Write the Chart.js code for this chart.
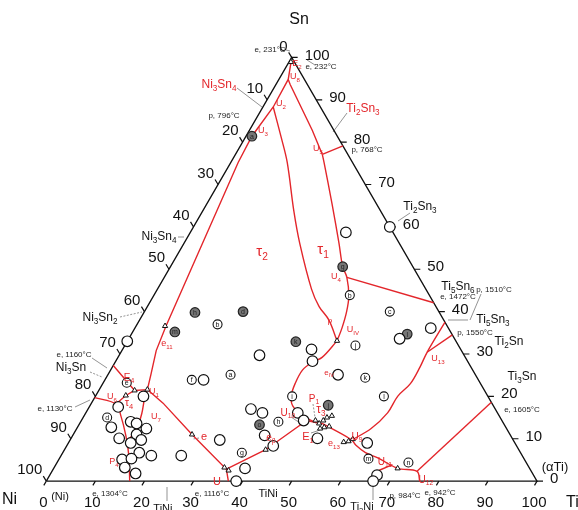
<!DOCTYPE html>
<html>
<head>
<meta charset="utf-8">
<script src="https://cdn.jsdelivr.net/npm/chart.js@4.4.1/dist/chart.umd.min.js"></script>
<style>
  html, body { margin: 0; padding: 0; background: #fff; }
  canvas { display: block; }
</style>
</head>
<body>
<canvas id="chart" width="578" height="510"></canvas>
<script>
// all compositions in at.% as [Ti, Sn]; Ni = 100 - Ti - Sn
const outline = [[0, 0], [100, 0], [0, 100], [0, 0]];
const axisTicks = [0, 10, 20, 30, 40, 50, 60, 70, 80, 90, 100];

const openSamples = [[40, 60], [31.7, 58.7], [60.3, 36.1], [55.2, 33.6], [0, 33], [28.6, 29.7], [20.1, 23.9],
  [9.8, 20], [5.9, 17.5], [6.9, 12.7], [10.2, 14], [11.6, 13.6], [14.2, 12.4], [12.9, 11], [9.8, 10.1],
  [12.7, 9], [14.5, 9.7], [15.6, 6.7], [18.4, 6], [12.9, 5.1], [14.7, 5.3], [14.4, 3.2], [17.3, 1.8],
  [24.5, 6], [30.5, 9.7], [39, 3], [38.7, 0], [33.2, 17], [36, 16.1], [39.1, 10.8], [42.1, 8.3],
  [43.2, 16.1], [45.3, 14.3], [38.5, 31.1], [40.1, 28.3], [46.9, 25.1], [50.2, 10.1], [60.9, 9],
  [66.7, 1.4], [66.6, 0]];

const graySamples = [[1.2, 81.4], [10.4, 39.8], [20.1, 40], [8.6, 35.2], [35.1, 50.6], [34.4, 32.9],
  [56.2, 34.7], [36.8, 13.3], [48.5, 17.9]];
const grayLetters = ['a', 'h', 'd', 'm', 'g', 'k', 'l', 'o', 'j'];

const letterSamples = [[39.9, 43.9], [50, 40], [16.4, 37], [25, 25.1], [17.7, 23.9], [4.8, 23.2], [4.9, 15],
  [36.5, 6.7], [40.3, 14], [40.1, 20], [47, 32], [52.8, 24.4], [58.8, 20], [63, 5.3], [71.6, 4.4]];
const sampleLetters = ['b', 'c', 'b', 'a', 'f', 'e', 'd', 'g', 'h', 'i', 'j', 'k', 'l', 'm', 'n'];

const invariantPoints = [[0.4, 98.9], [5.9, 36.6], [7.3, 21.4], [6.1, 20.2], [9.8, 21.6], [24.2, 11],
  [34.7, 3.2], [35.9, 2.5], [41, 7.4], [42.7, 33.1], [48.8, 13.6], [49.3, 14.3], [49.7, 15], [50.5, 15.4],
  [50.3, 12.7], [49.6, 12.4], [51.2, 12.9], [47.7, 14.3], [56, 9.2], [56.9, 9.4], [57.5, 9.9], [70.1, 3]];

// liquidus valleys
const valleySnCorner = [[0.5, 98.7], [1.9, 94.8], [2.1, 88.3], [1.2, 81.4], [1.5, 75.2], [6.1, 36.6], [7, 30.8], [8.7, 25.3], [9.8, 21.6]];
const valleyU2 = [[2.1, 88.3], [7.4, 81], [11.5, 75.2], [18.6, 63.7], [23.6, 56.1], [31.4, 45.3], [35, 41.2], [38.6, 38], [42.7, 33.1]];
const valleyU5top = [[1.9, 94.8], [2.9, 93.6], [12.8, 82.8], [17.7, 77.1]];
const valleyP768 = [[17.7, 77.1], [20.9, 79.1]];
const valleyU5down = [[17.7, 77.1], [19, 75.2], [25.6, 65.3], [31.6, 56.1], [35.1, 50.6], [37.2, 48.1], [39.8, 43.7], [41.2, 40], [42.2, 36.1], [42.7, 33.1]];
const valleyTi5Sn6 = [[37.2, 48.1], [57.9, 42.1]];
const valleyTau1 = [[42.7, 33.1], [41.6, 29.2], [40.2, 28.1], [39.1, 26.2], [39.2, 23], [39.9, 20], [41.4, 17.7], [44.6, 15.4], [48.1, 13.8], [49.4, 13.6]];
const valleyTi2Ni = [[49.4, 13.6], [52, 12.4], [57.4, 9.7], [58.8, 8.5], [61.7, 6.7], [64.8, 5.5], [70.1, 3], [74.4, 2.3], [76.1, 0]];
const valleyTi3Sn = [[74.4, 2.3], [81.4, 18.6]];
const valleyUi = [[57.4, 9.7], [60, 12.4], [61.5, 16.1], [61.6, 20], [62.7, 23], [62.7, 26.9], [62.4, 30.4], [62.5, 37.5]];
const valleyP1550 = [[62.4, 30.4], [65.5, 34.5]];
const valleyNiA = [[9.8, 21.6], [14.6, 18.4], [24.2, 11], [35.3, 2.8], [37.1, 0]];
const valleyNiB = [[35.3, 2.8], [41, 7.4], [45.9, 14.3], [48.1, 13.8]];
const valleyE1160 = [[0, 27.3], [7.3, 21.4], [9.8, 21.6]];
const valleyUc = [[7.3, 21.4], [6.1, 20.2], [5.1, 18.2]];
const valleyE1130 = [[0, 19.7], [5.1, 18.2], [7.5, 15.4], [10.8, 10.8], [13.7, 6.2], [17, 0]];
const valleyP4 = [[9.8, 21.6], [10.1, 20], [11.5, 15.9], [12.3, 12], [11.8, 9.5]];
const valley984 = [[68.6, 3.9], [66.5, 2.5]];

const H = Math.sqrt(3) / 2;
const tern = ([ti, sn]) => ({ x: ti + sn / 2, y: sn * H });

const RED = '#e3262b';
const FONT = '"Liberation Sans", Arial, sans-serif';

function richText(ctx, str, x, y, size, color, align) {
  const parts = [];
  let i = 0;
  while (i < str.length) {
    if (str[i] === '_') {
      let s;
      if (str[i + 1] === '{') {
        const k = str.indexOf('}', i);
        s = str.slice(i + 2, k);
        i = k + 1;
      } else {
        s = str[i + 1];
        i += 2;
      }
      parts.push({ s, sub: true });
    } else {
      let j = i;
      while (j < str.length && str[j] !== '_') j++;
      parts.push({ s: str.slice(i, j), sub: false });
      i = j;
    }
  }
  let w = 0;
  parts.forEach(p => {
    ctx.font = `${p.sub ? size * 0.68 : size}px ${FONT}`;
    p.w = ctx.measureText(p.s).width;
    w += p.w;
  });
  let cx = align === 'center' ? x - w / 2 : align === 'right' ? x - w : x;
  ctx.fillStyle = color;
  ctx.textBaseline = 'middle';
  ctx.textAlign = 'left';
  parts.forEach(p => {
    ctx.font = `${p.sub ? size * 0.68 : size}px ${FONT}`;
    ctx.fillText(p.s, cx, p.sub ? y + size * 0.32 : y);
    cx += p.w;
  });
}

// annotation text: [text, x, y, size, color, align]
const notes = [
  ['Sn', 299, 20, 16, '#111', 'center'],
  ['Ni', 2, 500, 16, '#111', 'left'],
  ['Ti', 566, 503, 16, '#111', 'left'],
  ['(Ni)', 60, 497, 11, '#111', 'center'],
  ['(\u03b1Ti)', 555, 467, 13, '#111', 'center'],
  ['TiNi', 268, 494, 11, '#111', 'center'],
  ['TiNi_3', 165, 509, 11, '#111', 'center'],
  ['Ti_2Ni', 362, 507, 11, '#111', 'center'],
  ['Ni_3Sn_4', 159, 237, 12, '#111', 'center'],
  ['Ni_3Sn_2', 100, 318, 12, '#111', 'center'],
  ['Ni_3Sn', 71, 368, 12, '#111', 'center'],
  ['Ti_2Sn_3', 420, 207, 12, '#111', 'center'],
  ['Ti_5Sn_6', 458, 287, 12, '#111', 'center'],
  ['Ti_5Sn_3', 493, 320, 12, '#111', 'center'],
  ['Ti_2Sn', 509, 342, 12, '#111', 'center'],
  ['Ti_3Sn', 522, 377, 12, '#111', 'center'],
  ['e, 231\u00b0C', 270, 50, 8, '#222', 'center'],
  ['e, 232\u00b0C', 321, 67, 8, '#222', 'center'],
  ['p, 796\u00b0C', 224, 116, 8, '#222', 'center'],
  ['p, 768\u00b0C', 367, 150, 8, '#222', 'center'],
  ['e, 1472\u00b0C', 458, 297, 8, '#222', 'center'],
  ['p, 1510\u00b0C', 494, 290, 8, '#222', 'center'],
  ['p, 1550\u00b0C', 475, 333, 8, '#222', 'center'],
  ['e, 1605\u00b0C', 522, 410, 8, '#222', 'center'],
  ['e, 1160\u00b0C', 74, 355, 8, '#222', 'center'],
  ['e, 1130\u00b0C', 55, 409, 8, '#222', 'center'],
  ['e, 1304\u00b0C', 110, 494, 8, '#222', 'center'],
  ['e, 1116\u00b0C', 212, 494, 8, '#222', 'center'],
  ['p, 984\u00b0C', 405, 496, 8, '#222', 'center'],
  ['e, 942\u00b0C', 440, 493, 8, '#222', 'center'],
  ['Ni_3Sn_4', 219, 85, 12, RED, 'center'],
  ['Ti_2Sn_3', 363, 109, 12, RED, 'center'],
  ['\u03c4_2', 262, 252, 15, RED, 'center'],
  ['\u03c4_1', 323, 250, 15, RED, 'center'],
  ['\u03c4_4', 129, 403, 11, RED, 'center'],
  ['\u03c4_3', 321, 410, 12, RED, 'center'],
  ['E_2', 297, 64, 9, RED, 'center'],
  ['U_8', 295, 77, 9, RED, 'center'],
  ['U_2', 281, 104, 9, RED, 'center'],
  ['U_3', 263, 131, 9, RED, 'center'],
  ['U_5', 318, 149, 9, RED, 'center'],
  ['U_4', 336, 277, 9, RED, 'center'],
  ['e_{11}', 167, 344, 9, RED, 'center'],
  ['E_4', 129, 378, 10, RED, 'center'],
  ['U_1', 154, 392, 9, RED, 'center'],
  ['U_6', 112, 397, 9, RED, 'center'],
  ['U_7', 156, 417, 9, RED, 'center'],
  ['P_4', 114, 462, 9, RED, 'center'],
  ['e', 204, 437, 11, RED, 'center'],
  ['U', 217, 482, 11, RED, 'center'],
  ['e_\u03b2', 271, 438, 10, RED, 'center'],
  ['p', 330, 321, 8, RED, 'center'],
  ['U_{IV}', 353, 330, 9, RED, 'center'],
  ['e_{IV}', 329, 373, 8, RED, 'center'],
  ['P_1', 314, 399, 10, RED, 'center'],
  ['U_{10}', 288, 413, 10, RED, 'center'],
  ['E_1', 308, 437, 11, RED, 'center'],
  ['e_{13}', 334, 444, 9, RED, 'center'],
  ['U_9', 357, 437, 10, RED, 'center'],
  ['U_{11}', 385, 462, 10, RED, 'center'],
  ['U_{12}', 426, 480, 10, RED, 'center'],
  ['U_{13}', 438, 359, 9, RED, 'center']
];

// leader lines [x1, y1, x2, y2, dashed]
const leaders = [
  [237, 88, 262, 107, false], [347, 113, 333, 132, false], [307, 60, 315, 65, false],
  [286, 50, 290, 51, false], [410, 213, 398, 221, false], [178, 237, 184, 237, false],
  [120, 317, 142, 312, true], [90, 372, 102, 377, true], [92, 358, 107, 368, false],
  [75, 407, 90, 400, false], [448, 320, 468, 320, false], [470, 320, 481, 294, false],
  [167, 487, 167, 501, false], [373, 487, 373, 500, false], [313, 404, 316, 424, true],
  [291, 417, 303, 425, false], [311, 433, 320, 430, false], [199, 438, 193, 439, true]
];

const pixelOf = (scales, ti, sn) => {
  const p = tern([ti, sn]);
  return { x: scales.x.getPixelForValue(p.x), y: scales.y.getPixelForValue(p.y) };
};

const decor = {
  id: 'decor',
  beforeDatasetsDraw(chart) {
    const { ctx, scales } = chart;
    ctx.save();
    ctx.strokeStyle = '#111';
    ctx.lineWidth = 1.2;
    axisTicks.forEach(v => {
      const l = pixelOf(scales, 0, 100 - v);
      const r = pixelOf(scales, 100 - v, v);
      const b = pixelOf(scales, v, 0);
      ctx.beginPath();
      ctx.moveTo(l.x, l.y); ctx.lineTo(l.x - 3, l.y - 5);
      ctx.moveTo(r.x, r.y); ctx.lineTo(r.x + 6, r.y);
      ctx.moveTo(b.x, b.y); ctx.lineTo(b.x - 2.5, b.y + 4.3);
      ctx.stroke();
    });
    ctx.strokeStyle = '#666';
    ctx.lineWidth = 0.7;
    leaders.forEach(([x1, y1, x2, y2, dashed]) => {
      ctx.setLineDash(dashed ? [2, 1.5] : []);
      ctx.beginPath();
      ctx.moveTo(x1, y1); ctx.lineTo(x2, y2);
      ctx.stroke();
    });
    ctx.restore();
  },
  afterDraw(chart) {
    const { ctx, scales } = chart;
    ctx.save();
    axisTicks.forEach(v => {
      const l = pixelOf(scales, 0, 100 - v);
      const r = pixelOf(scales, 100 - v, v);
      const b = pixelOf(scales, v, 0);
      richText(ctx, String(v), l.x - 4, l.y - 11, 15, '#111', 'right');
      richText(ctx, String(v), r.x + 13, r.y - 2, 15, '#111', 'left');
      richText(ctx, String(v), b.x - 3, 503, 15, '#111', 'center');
    });
    const drawLetters = (pts, letters, color) => {
      pts.forEach((p, i) => {
        const q = pixelOf(scales, p[0], p[1]);
        ctx.font = `7px ${FONT}`;
        ctx.fillStyle = color;
        ctx.textAlign = 'center';
        ctx.textBaseline = 'middle';
        ctx.fillText(letters[i], q.x, q.y + 0.5);
      });
    };
    drawLetters(graySamples, grayLetters, '#222');
    drawLetters(letterSamples, sampleLetters, '#111');
    notes.forEach(n => richText(ctx, n[0], n[1], n[2], n[3], n[4], n[5]));
    ctx.restore();
  }
};

const valley = (pts, curved) => ({
  data: pts.map(tern),
  showLine: true,
  borderColor: RED,
  borderWidth: 1.4,
  pointRadius: 0,
  fill: false,
  tension: curved ? 0.35 : 0,
  order: 5
});

const datasets = [
  { data: outline.map(tern), showLine: true, borderColor: '#111', borderWidth: 1.3, pointRadius: 0, fill: false, order: 10 },
  valley(valleySnCorner), valley(valleyU2, true), valley(valleyU5top), valley(valleyP768),
  valley(valleyU5down, true), valley(valleyTi5Sn6), valley(valleyTau1, true), valley(valleyTi2Ni, true),
  valley(valleyTi3Sn), valley(valleyUi, true), valley(valleyP1550), valley(valleyNiA), valley(valleyNiB),
  valley(valleyE1160), valley(valleyUc), valley(valleyE1130, true), valley(valleyP4, true), valley(valley984),
  { data: openSamples.map(tern), pointStyle: 'circle', pointRadius: 5.3, pointBackgroundColor: '#fff',
    pointBorderColor: '#111', pointBorderWidth: 1.2, showLine: false, order: 2 },
  { data: graySamples.map(tern), pointStyle: 'circle', pointRadius: 4.8, pointBackgroundColor: '#767676',
    pointBorderColor: '#222', pointBorderWidth: 1.2, showLine: false, order: 2 },
  { data: letterSamples.map(tern), pointStyle: 'circle', pointRadius: 4.5, pointBackgroundColor: '#fff',
    pointBorderColor: '#111', pointBorderWidth: 1.1, showLine: false, order: 2 },
  { data: invariantPoints.map(tern), pointStyle: 'triangle', pointRadius: 3, pointBackgroundColor: '#fff',
    pointBorderColor: '#111', pointBorderWidth: 1, showLine: false, order: 1 }
];

new Chart(document.getElementById('chart').getContext('2d'), {
  type: 'scatter',
  data: { datasets },
  options: {
    responsive: false,
    animation: false,
    devicePixelRatio: 1,
    events: [],
    layout: { padding: 0 },
    plugins: { legend: { display: false }, tooltip: { enabled: false } },
    scales: {
      x: { type: 'linear', display: false, min: -8.11, max: 107.03 },
      y: { type: 'linear', display: false, min: -4.58, max: 97.01 }
    }
  },
  plugins: [decor]
});
</script>
</body>
</html>
